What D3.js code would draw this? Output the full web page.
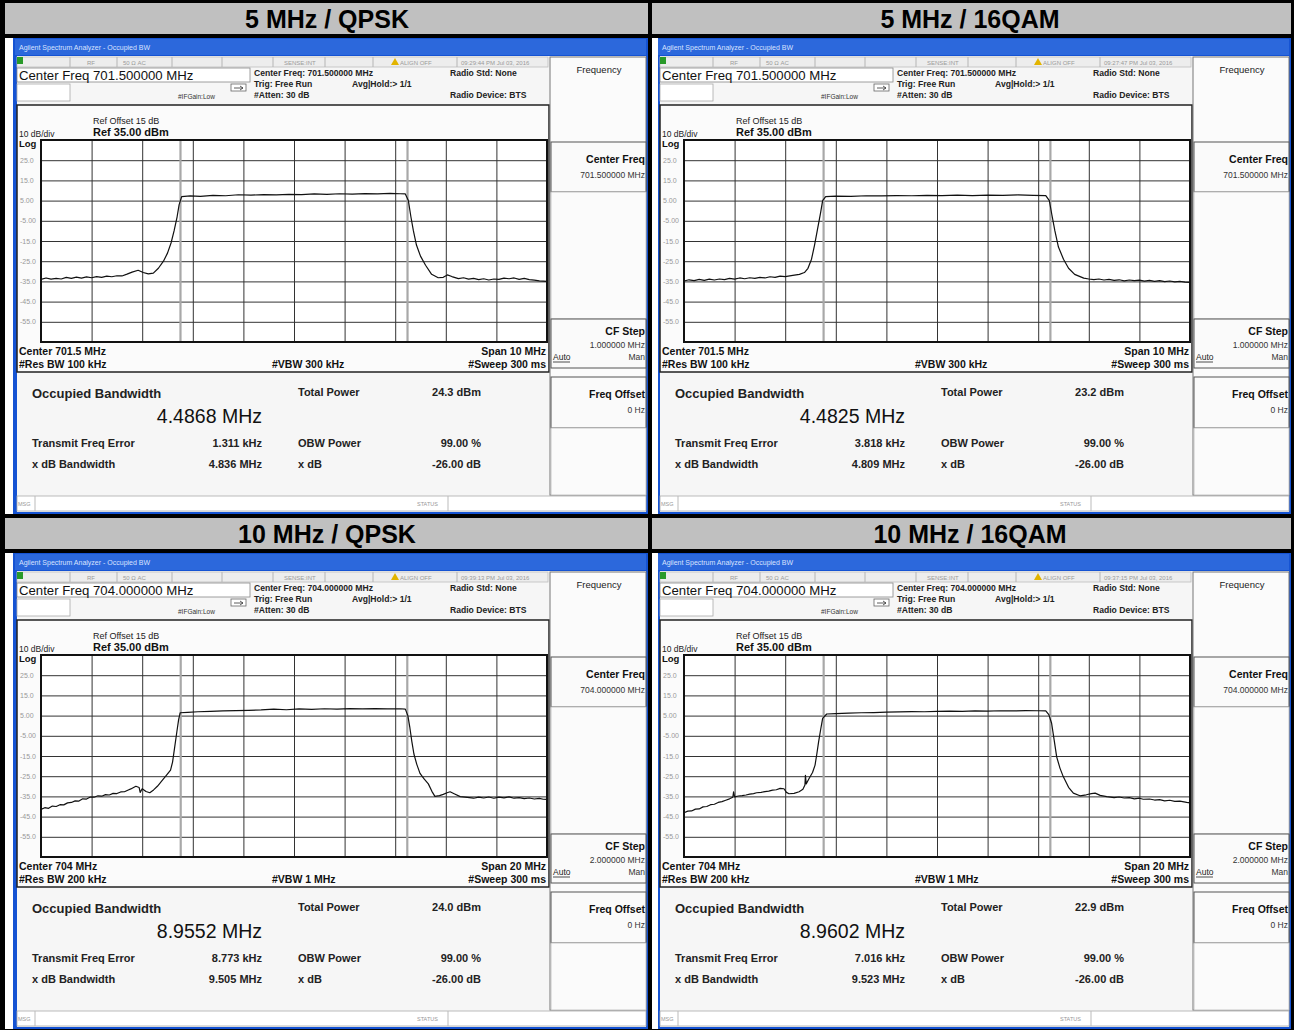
<!DOCTYPE html>
<html>
<head>
<meta charset="utf-8">
<script src="https://cdn.jsdelivr.net/npm/d3@7"></script>
<style>
  html, body { margin: 0; padding: 0; background: #000; }
  svg { display: block; font-family: "Liberation Sans", Arial, sans-serif; }
</style>
</head>
<body>
<svg id="chart" width="1294" height="1030"></svg>
<script>
// panel labels and readouts, one entry per panel (TL, TR, BL, BR)
const panelTitles = ["5 MHz / QPSK", "5 MHz / 16QAM", "10 MHz / QPSK", "10 MHz / 16QAM"]
const centerFreqs = ["701.500000", "701.500000", "704.000000", "704.000000"]
const centerShort = ["701.5 MHz", "701.5 MHz", "704 MHz", "704 MHz"]
const spansMHz = [10, 10, 20, 20]
const resBW = ["100 kHz", "100 kHz", "200 kHz", "200 kHz"]
const videoBW = ["300 kHz", "300 kHz", "1 MHz", "1 MHz"]
const cfSteps = ["1.000000 MHz", "1.000000 MHz", "2.000000 MHz", "2.000000 MHz"]
const timestamps = ["09:29:44 PM Jul 03, 2016", "09:27:47 PM Jul 03, 2016", "09:39:13 PM Jul 03, 2016", "09:37:15 PM Jul 03, 2016"]
const obwMHz = [4.4868, 4.4825, 8.9552, 8.9602]
const totalPower = ["24.3 dBm", "23.2 dBm", "24.0 dBm", "22.9 dBm"]
const freqError = ["1.311 kHz", "3.818 kHz", "8.773 kHz", "7.016 kHz"]
const xdbBandwidth = ["4.836 MHz", "4.809 MHz", "9.505 MHz", "9.523 MHz"]

const yTicks = [25, 15, 5, -5, -15, -25, -35, -45, -55]
const yTickLabels = ["25.0", "15.0", "5.00", "-5.00", "-15.0", "-25.0", "-35.0", "-45.0", "-55.0"]
const refLevel = 35

// traces: [offset from center in MHz, level in dBm]
const trace5Qpsk = [
  [-5.0,-34.0],[-4.9,-33.3],[-4.8,-33.9],[-4.7,-33.5],[-4.6,-33.8],[-4.5,-33.0],[-4.4,-33.5],[-4.3,-32.9],
  [-4.2,-33.4],[-4.1,-32.8],[-4.0,-33.2],[-3.9,-32.6],[-3.8,-33.0],[-3.7,-32.4],[-3.6,-32.7],[-3.5,-32.2],
  [-3.4,-32.3],[-3.3,-31.4],[-3.2,-30.4],[-3.08,-29.5],[-2.98,-30.6],[-2.88,-31.3],
  [-2.78,-30.9],[-2.68,-28.5],[-2.58,-25],[-2.5,-21],[-2.43,-16],[-2.37,-10],[-2.31,-3],[-2.27,3],[-2.22,7.0],
  [-2.05,7.3],[-1.85,7.1],[-1.6,7.6],[-1.35,7.4],[-1.1,7.9],[-0.85,7.7],[-0.6,8.0],[-0.35,7.8],[-0.1,8.1],
  [0.15,8.0],[0.4,8.3],[0.65,8.1],[0.9,8.4],[1.15,8.2],[1.4,8.5],[1.65,8.3],[1.9,8.6],[2.1,8.4],[2.2,8.3],
  [2.26,5],[2.31,-3],[2.36,-10],[2.42,-17],[2.5,-22.5],[2.6,-27],[2.72,-31.5],[2.85,-33.2],[2.95,-33.0],
  [3.03,-31.8],[3.12,-32.6],[3.25,-33.6],[3.35,-33.2],[3.45,-33.9],[3.55,-33.5],[3.65,-34.1],[3.75,-33.7],
  [3.85,-34.3],[3.95,-33.8],[4.05,-34.0],[4.15,-33.4],[4.25,-33.7],[4.35,-33.3],[4.45,-34.0],[4.55,-33.5],
  [4.65,-34.1],[4.75,-34.4],[4.85,-34.7],[5.0,-35.0]
]
const trace5Qam = [
  [-5.0,-34.8],[-4.9,-34.2],[-4.8,-34.6],[-4.7,-34.0],[-4.6,-34.5],[-4.5,-33.9],[-4.4,-34.3],[-4.3,-33.8],
  [-4.2,-34.1],[-4.1,-33.5],[-4.0,-33.9],[-3.9,-33.3],[-3.8,-33.7],[-3.7,-33.2],[-3.6,-33.5],[-3.5,-33.0],
  [-3.4,-33.3],[-3.3,-32.7],[-3.2,-33.0],[-3.1,-32.4],[-3.0,-32.6],[-2.85,-32.0],[-2.72,-31.5],[-2.62,-30.6],
  [-2.55,-28.5],[-2.48,-24],[-2.42,-17],[-2.36,-9],[-2.3,-1],[-2.26,5],[-2.2,7.0],[-2.0,7.2],[-1.7,7.1],
  [-1.4,7.4],[-1.1,7.3],[-0.8,7.5],[-0.5,7.4],[-0.2,7.6],[0.1,7.5],[0.4,7.7],[0.7,7.5],[1.0,7.7],[1.3,7.6],
  [1.6,7.8],[1.9,7.6],[2.15,7.5],[2.22,5],[2.27,-2],[2.33,-10],[2.4,-18],[2.5,-24],[2.6,-28.5],[2.72,-31.5],
  [2.9,-33.4],[3.0,-33.8],[3.1,-34.1],[3.2,-33.8],[3.3,-34.3],[3.4,-34.0],[3.5,-34.5],[3.6,-34.2],[3.7,-34.7],
  [3.8,-34.3],[3.9,-34.6],[4.0,-34.4],[4.1,-34.9],[4.2,-34.5],[4.3,-35.0],[4.4,-34.6],[4.5,-35.1],[4.6,-34.8],
  [4.7,-35.2],[4.8,-35.0],[4.9,-35.4],[5.0,-35.5]
]
const trace10Qpsk = [
  [-10,-41.4],[-9.85,-40.6],[-9.7,-40.9],[-9.55,-39.8],[-9.4,-40.0],[-9.25,-39.1],[-9.1,-39.2],[-8.95,-38.2],
  [-8.8,-38.0],[-8.65,-37.2],[-8.5,-37.3],[-8.35,-36.2],[-8.2,-36.3],[-8.05,-35.3],[-7.9,-35.4],[-7.75,-34.7],
  [-7.6,-34.9],[-7.45,-34.1],[-7.3,-34.3],[-7.15,-33.5],[-7.0,-33.6],[-6.85,-32.8],[-6.7,-32.7],[-6.55,-31.8],
  [-6.45,-31.3],[-6.25,-30.0],[-6.12,-30.6],[-6.08,-33.0],
  [-6.0,-31.2],[-5.85,-32.6],[-5.7,-33.2],[-5.55,-31.8],[-5.4,-30.0],[-5.2,-27.0],[-5.03,-24.4],[-4.88,-22.0],
  [-4.8,-18],[-4.72,-11],[-4.63,-3],[-4.56,3],[-4.5,6.4],[-4.2,6.6],[-3.8,6.9],[-3.3,7.1],[-2.8,7.3],[-2.3,7.5],
  [-1.8,7.6],[-1.3,7.8],[-0.8,8.2],[-0.3,7.9],[0.2,8.3],[0.7,8.1],[1.2,8.4],[1.7,8.2],[2.2,8.5],[2.7,8.3],
  [3.2,8.5],[3.7,8.3],[4.2,8.4],[4.4,8.2],[4.5,5],[4.58,-1],[4.66,-8],[4.74,-14],[4.85,-19],[4.98,-23.6],
  [5.15,-26.5],[5.31,-28.8],[5.45,-32.5],[5.57,-35.0],[5.75,-34.6],[5.9,-34.0],[6.05,-33.2],[6.17,-32.7],
  [6.35,-33.8],[6.57,-35.1],[6.85,-35.5],[7.1,-35.9],[7.3,-35.4],[7.5,-35.8],[7.7,-35.3],[7.9,-35.9],
  [8.1,-35.4],[8.3,-35.7],[8.5,-35.2],[8.7,-35.9],[8.9,-35.6],[9.1,-36.1],[9.3,-35.8],[9.5,-36.3],
  [9.7,-36.0],[9.85,-36.4],[10,-36.5]
]
const trace10Qam = [
  [-10,-43.1],[-9.85,-42.3],[-9.7,-42.2],[-9.55,-41.3],[-9.4,-41.2],[-9.25,-40.2],[-9.1,-40.0],[-8.95,-39.1],
  [-8.8,-38.9],[-8.65,-38.0],[-8.5,-37.6],[-8.35,-36.9],[-8.2,-36.2],[-8.07,-35.4],
  [-8.04,-32.7],[-8.0,-35.2],[-7.85,-34.8],[-7.7,-34.6],[-7.55,-34.3],[-7.4,-33.9],[-7.25,-33.6],[-7.13,-33.2],
  [-6.95,-33.0],[-6.8,-32.6],[-6.65,-32.4],[-6.5,-31.9],[-6.35,-31.7],[-6.2,-31.0],
  [-6.05,-31.2],[-5.95,-33.0],[-5.85,-33.7],[-5.65,-33.5],[-5.45,-32.7],[-5.3,-31.5],[-5.22,-29.4],[-5.2,-24.6],
  [-5.17,-28.8],[-5.05,-26.0],[-4.92,-23.2],[-4.82,-19.5],[-4.75,-14],[-4.68,-8],[-4.6,-2],[-4.52,3.6],
  [-4.36,5.8],[-4.0,6.0],[-3.5,6.2],[-3.0,6.4],[-2.5,6.5],[-2.0,6.7],[-1.5,6.8],[-1.0,7.0],[-0.5,6.9],[0,7.1],
  [0.5,7.2],[1.0,7.1],[1.5,7.3],[2.0,7.2],[2.5,7.4],[3.0,7.3],[3.5,7.5],[4.0,7.4],[4.3,7.3],[4.42,5.5],
  [4.53,1.2],[4.63,-7],[4.73,-15.4],[4.86,-21],[4.99,-25.2],[5.2,-30.5],[5.39,-33.4],[5.65,-34.7],[5.9,-34.2],
  [6.1,-33.6],[6.25,-33.4],[6.45,-34.5],[6.71,-35.1],[7.0,-35.6],[7.2,-35.3],[7.4,-35.8],[7.6,-35.6],
  [7.8,-36.2],[8.0,-35.9],[8.15,-36.4],[8.4,-36.3],[8.6,-36.8],[8.8,-36.6],[9.0,-37.2],[9.2,-36.9],
  [9.4,-37.5],[9.6,-37.3],[9.87,-38.0],[10,-38.2]
]
const traces = [trace5Qpsk, trace5Qam, trace10Qpsk, trace10Qam]

const svg = d3.select("#chart")
svg.append("rect").attr("width", 1294).attr("height", 1030).attr("fill", "#000")

const txt = (g, x, y, s, size, o = {}) =>
  g.append("text")
    .attr("x", x).attr("y", y)
    .attr("font-size", size)
    .attr("font-weight", o.w || "normal")
    .attr("text-anchor", o.a || "start")
    .attr("fill", o.c || "#111")
    .text(s)

const box = (g, x0, y0, x1, y1, fill, stroke, sw = 1) =>
  g.append("rect")
    .attr("x", x0).attr("y", y0)
    .attr("width", x1 - x0).attr("height", y1 - y0)
    .attr("fill", fill).attr("stroke", stroke || "none").attr("stroke-width", sw)

// plot box inside each screen
const PL = 41, PR = 547, PT = 140, PB = 342

panelTitles.forEach((title, i) => {
  const col = i % 2
  const g = svg.append("g").attr("transform", `translate(${col * 643},${Math.floor(i / 2) * 515})`)

  // grey caption bar
  box(g, col ? 9 : 5, 3, 648, 34, "#c0c0c0")
  txt(g, 327, 28, title, 25, {w: "bold", a: "middle", c: "#000"})

  // window frame
  box(g, col ? 9 : 5, 38, col ? 15 : 13, 514, "#fff")
  box(g, col ? 15 : 13, 38, 648, 514, "#1553d3")
  box(g, 15, 39, 646, 55, "#2c68dc")
  txt(g, 19, 50, "Agilent Spectrum Analyzer - Occupied BW", 7, {c: "#d8e2ff"})
  box(g, 17, 56, 646, 512, "#f6f6f6")

  // status row
  box(g, 17, 57, 548, 67, "#ededed", "#bdbdbd", 0.8)
  box(g, 17, 57, 23, 64, "#2a9a2a")
  ;[70, 117, 172, 222, 273, 325, 373, 457].forEach((x) =>
    g.append("line").attr("x1", x).attr("x2", x).attr("y1", 57).attr("y2", 67).attr("stroke", "#b5b5b5"))
  txt(g, 87, 64.5, "RF", 6, {c: "#9a9a9a"})
  txt(g, 123, 64.5, "50 Ω  AC", 6, {c: "#9a9a9a"})
  txt(g, 284, 64.5, "SENSE:INT", 6, {c: "#9a9a9a"})
  g.append("path").attr("d", "M391,65 L395,58 L399,65 Z").attr("fill", "#e2b400")
  txt(g, 400, 64.5, "ALIGN OFF", 6, {c: "#9a9a9a"})
  txt(g, 461, 64.5, timestamps[i], 6, {c: "#9a9a9a"})

  // active function + settings block
  box(g, 17, 68, 250, 82, "#fff", "#888", 0.8)
  txt(g, 19, 80, `Center Freq ${centerFreqs[i]} MHz`, 13.2, {c: "#111"})
  box(g, 17, 84, 70, 101, "#fff", "#aaa", 0.8)
  box(g, 231, 84, 246, 91, "#fff", "#666", 0.8)
  g.append("path").attr("d", "M234,88 L243,88 M240,86 L243,88 L240,90").attr("fill", "none").attr("stroke", "#333").attr("stroke-width", 0.8)
  txt(g, 178, 99, "#IFGain:Low", 6.5, {c: "#333"})
  txt(g, 254, 76, `Center Freq: ${centerFreqs[i]} MHz`, 8.6, {w: "bold", c: "#222"})
  txt(g, 254, 87, "Trig: Free Run", 8.6, {w: "bold", c: "#222"})
  txt(g, 254, 97.5, "#Atten: 30 dB", 8.6, {w: "bold", c: "#222"})
  txt(g, 352, 87, "Avg|Hold:> 1/1", 8.6, {w: "bold", c: "#222"})
  txt(g, 450, 76, "Radio Std: None", 8.6, {w: "bold", c: "#222"})
  txt(g, 450, 97.5, "Radio Device: BTS", 8.6, {w: "bold", c: "#222"})

  // trace window frame
  box(g, 17, 105, 549, 372, "#fbfbfb", "#222", 1.5)
  txt(g, 93, 124, "Ref Offset 15 dB", 9, {c: "#222"})
  txt(g, 93, 135.5, `Ref ${refLevel.toFixed(2)} dBm`, 11, {w: "bold", c: "#111"})
  txt(g, 19, 136.5, "10 dB/div", 8.5, {c: "#222"})
  txt(g, 19, 146.5, "Log", 9.5, {w: "bold", c: "#111"})

  const span = spansMHz[i]
  const x = d3.scaleLinear().domain([-span / 2, span / 2]).range([PL, PR])
  const y = d3.scaleLinear().domain([refLevel - 100, refLevel]).range([PB, PT])

  box(g, PL, PT, PR, PB, "#fff")
  const xGrid = d3.range(11).map((k) => -span / 2 + (k * span) / 10)
  const yGrid = d3.range(11).map((k) => refLevel - k * 10)

  g.append("g")
    .attr("transform", `translate(0,${PB})`)
    .call(d3.axisBottom(x).tickValues(xGrid).tickSize(-(PB - PT)).tickFormat(""))
    .call((a) => a.select(".domain").remove())
    .call((a) => a.selectAll("line").attr("stroke", "#333").attr("stroke-width", 1))
  g.append("g")
    .attr("transform", `translate(${PL},0)`)
    .call(d3.axisLeft(y).tickValues(yGrid).tickSize(-(PR - PL)).tickFormat(""))
    .call((a) => a.select(".domain").remove())
    .call((a) => a.selectAll("line").attr("stroke", "#333").attr("stroke-width", 1))

  yTicks.forEach((v, k) => txt(g, 20, y(v) + 2.5, yTickLabels[k], 7, {c: "#999"}))

  // occupied bandwidth markers
  ;[-obwMHz[i] / 2, obwMHz[i] / 2].forEach((f) =>
    g.append("line").attr("x1", x(f)).attr("x2", x(f)).attr("y1", PT).attr("y2", PB)
      .attr("stroke", "#a8a8a8").attr("stroke-width", 2.2))

  g.append("path")
    .datum(traces[i])
    .attr("fill", "none")
    .attr("stroke", "#111")
    .attr("stroke-width", 1.2)
    .attr("stroke-linejoin", "round")
    .attr("d", d3.line().x((d) => x(d[0])).y((d) => y(d[1])))

  g.append("rect").attr("x", PL).attr("y", PT).attr("width", PR - PL).attr("height", PB - PT)
    .attr("fill", "none").attr("stroke", "#111").attr("stroke-width", 2)

  txt(g, 19, 355, `Center  ${centerShort[i]}`, 10.5, {w: "bold"})
  txt(g, 19, 368, `#Res BW  ${resBW[i]}`, 10.5, {w: "bold"})
  txt(g, 272, 368, `#VBW  ${videoBW[i]}`, 10.5, {w: "bold"})
  txt(g, 546, 355, `Span ${span} MHz`, 10.5, {w: "bold", a: "end"})
  txt(g, 546, 368, "#Sweep  300 ms", 10.5, {w: "bold", a: "end"})

  // measurement results
  txt(g, 32, 398, "Occupied Bandwidth", 13, {w: "bold", c: "#222"})
  txt(g, 262, 423, `${obwMHz[i].toFixed(4)} MHz`, 19.5, {a: "end", c: "#111"})
  txt(g, 298, 396, "Total Power", 11, {w: "bold", c: "#222"})
  txt(g, 481, 396, totalPower[i], 11, {w: "bold", a: "end", c: "#222"})
  txt(g, 32, 447, "Transmit Freq Error", 11, {w: "bold", c: "#222"})
  txt(g, 262, 447, freqError[i], 11, {w: "bold", a: "end", c: "#222"})
  txt(g, 298, 447, "OBW Power", 11, {w: "bold", c: "#222"})
  txt(g, 481, 447, "99.00 %", 11, {w: "bold", a: "end", c: "#222"})
  txt(g, 32, 468, "x dB Bandwidth", 11, {w: "bold", c: "#222"})
  txt(g, 262, 468, xdbBandwidth[i], 11, {w: "bold", a: "end", c: "#222"})
  txt(g, 298, 468, "x dB", 11, {w: "bold", c: "#222"})
  txt(g, 481, 468, "-26.00 dB", 11, {w: "bold", a: "end", c: "#222"})

  // bottom status bar
  box(g, 17, 496, 646, 511, "#fff", "#aaa", 0.8)
  g.append("line").attr("x1", 35).attr("x2", 35).attr("y1", 496).attr("y2", 511).attr("stroke", "#bbb")
  g.append("line").attr("x1", 448).attr("x2", 448).attr("y1", 496).attr("y2", 511).attr("stroke", "#bbb")
  txt(g, 18, 506, "MSG", 5.5, {c: "#999"})
  txt(g, 417, 506, "STATUS", 5.5, {c: "#999"})

  // softkey menu
  box(g, 550, 57, 646, 495, "#fbfbfb", "#777", 1)
  txt(g, 599, 73, "Frequency", 9.5, {a: "middle", c: "#222"})
  box(g, 551, 142, 646, 192, "#fafafa", "#555", 1)
  txt(g, 645, 163, "Center Freq", 10.5, {w: "bold", a: "end"})
  txt(g, 645, 178, `${centerFreqs[i]} MHz`, 8.5, {a: "end", c: "#333"})
  box(g, 551, 192, 646, 319, "#fbfbfb", "#bbb", 0.8)
  box(g, 551, 319, 646, 368, "#fafafa", "#555", 1)
  txt(g, 645, 335, "CF Step", 10.5, {w: "bold", a: "end"})
  txt(g, 645, 347.5, cfSteps[i], 8.5, {a: "end", c: "#333"})
  txt(g, 553, 360, "Auto", 8.5, {c: "#222"})
  g.append("line").attr("x1", 553).attr("x2", 570).attr("y1", 362).attr("y2", 362).attr("stroke", "#222").attr("stroke-width", 0.8)
  txt(g, 645, 360, "Man", 8.5, {a: "end", c: "#333"})
  box(g, 551, 377, 646, 428, "#fafafa", "#555", 1)
  txt(g, 645, 398, "Freq Offset", 10.5, {w: "bold", a: "end"})
  txt(g, 645, 413, "0 Hz", 8.5, {a: "end", c: "#333"})
  box(g, 551, 428, 646, 495, "#fbfbfb", "#bbb", 0.8)
})
</script>
</body>
</html>
